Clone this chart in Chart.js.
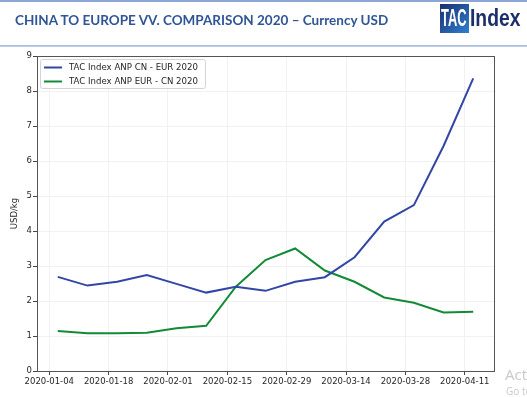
<!DOCTYPE html>
<html>
<head>
<meta charset="utf-8">
<script src="https://cdn.jsdelivr.net/npm/chart.js@4/dist/chart.umd.min.js"></script>
<style>
    html, body { margin: 0; padding: 0; background: #fff; overflow: hidden; }
    #page { position: relative; width: 527px; height: 397px; overflow: hidden; }
    #topRule { position: absolute; left: 0; top: 0; width: 527px; height: 2px; background: #8ea6d6; }
    #bottomRule { position: absolute; left: 0; top: 45px; width: 527px; height: 2px; background: linear-gradient(#9fb4de, #c9d5ec); }
    #title { position: absolute; left: 15px; top: 12px; font: bold 13.5px Lato, "Open Sans", sans-serif; color: #2f5597; white-space: nowrap; }
    #logoBox { position: absolute; left: 440px; top: 4px; width: 29px; height: 29px; background: linear-gradient(135deg, #1b2f6e, #2f7fd0); }
    .logoText { position: absolute; font: bold 23px "Liberation Sans", Arial, sans-serif; transform-origin: 0 0; white-space: nowrap; }
    #logoTac { left: 441px; top: 5px; color: #fff; transform: scaleX(0.56); }
    #logoIndex { left: 470px; top: 5px; color: #1c2f6a; transform: scaleX(0.84); }
    #chartBox { position: absolute; left: 0; top: 0; width: 527px; height: 397px; }
    .wm { position: absolute; color: #c9c9c9; font-family: "Open Sans", sans-serif; white-space: nowrap; }
</style>
</head>
<body>
<div id="page">
    <div id="chartBox"><canvas id="tacChart"></canvas></div>
    <div id="topRule"></div>
    <div id="bottomRule"></div>
    <div id="title">CHINA TO EUROPE VV. COMPARISON 2020 – Currency USD</div>
    <div id="logoBox"></div>
    <div id="logoTac" class="logoText">TAC</div>
    <div id="logoIndex" class="logoText">Index</div>
    <div class="wm" style="left:505px; top:364px; font-size:15px;">Activate Windows</div>
    <div class="wm" style="left:506px; top:384px; font-size:10px;">Go to Settings to activate Windows.</div>
</div>
<script>
const startDate = '2020-01-04';
const weekDates = ['2020-01-06', '2020-01-13', '2020-01-20', '2020-01-27', '2020-02-03', '2020-02-10', '2020-02-17',
    '2020-02-24', '2020-03-02', '2020-03-09', '2020-03-16', '2020-03-23', '2020-03-30', '2020-04-06', '2020-04-13'];
const cnEurValues = [2.69, 2.44, 2.55, 2.74, 2.49, 2.24, 2.41, 2.29, 2.55, 2.68, 3.25, 4.27, 4.74, 6.43, 8.36];
const eurCnValues = [1.14, 1.08, 1.08, 1.09, 1.22, 1.29, 2.41, 3.17, 3.50, 2.87, 2.55, 2.10, 1.95, 1.67, 1.69];
const tickDates = ['2020-01-04', '2020-01-18', '2020-02-01', '2020-02-15', '2020-02-29', '2020-03-14', '2020-03-28', '2020-04-11'];

function dayOf(d) {
    return (Date.parse(d) - Date.parse(startDate)) / 86400000;
}

const tickFont = { family: 'DejaVu Sans', size: 8.5 };

// legend drawn by hand so it gets the framed box
const legendBox = {
    id: 'legendBox',
    afterDatasetsDraw(chart) {
        const { ctx, chartArea } = chart;
        const x = chartArea.left + 3;
        const y = chartArea.top + 3;
        ctx.save();
        ctx.font = '8.6px "DejaVu Sans"';
        const w = Math.max(...chart.data.datasets.map(ds => ctx.measureText(ds.label).width)) + 36;
        ctx.fillStyle = 'rgba(255,255,255,0.85)';
        ctx.strokeStyle = '#d4d4d4';
        ctx.lineWidth = 1;
        ctx.beginPath();
        ctx.roundRect(x + 0.5, y + 0.5, w, 29, 2);
        ctx.fill();
        ctx.stroke();
        chart.data.datasets.forEach((ds, i) => {
            const ly = y + 8.5 + i * 14;
            ctx.strokeStyle = ds.borderColor;
            ctx.lineWidth = 2;
            ctx.beginPath();
            ctx.moveTo(x + 4, ly);
            ctx.lineTo(x + 22, ly);
            ctx.stroke();
            ctx.fillStyle = '#262626';
            ctx.textBaseline = 'middle';
            ctx.fillText(ds.label, x + 29, ly + 0.5);
        });
        ctx.restore();
    }
};

const frameBox = {
    id: 'frameBox',
    afterDraw(chart) {
        const { ctx, chartArea } = chart;
        ctx.save();
        ctx.strokeStyle = '#555';
        ctx.lineWidth = 1;
        ctx.strokeRect(chartArea.left + 0.5, chartArea.top + 0.5, chartArea.width, chartArea.height);
        ctx.restore();
    }
};

const ctx = document.getElementById('tacChart').getContext('2d');
const tacChart = new Chart(ctx, {
    type: 'line',
    data: {
        datasets: [{
            label: 'TAC Index ANP CN - EUR 2020',
            data: weekDates.map((d, i) => ({ x: dayOf(d), y: cnEurValues[i] })),
            borderColor: '#3246a6',
            backgroundColor: '#3246a6',
            borderWidth: 2,
            pointRadius: 0,
            tension: 0,
        }, {
            label: 'TAC Index ANP EUR - CN 2020',
            data: weekDates.map((d, i) => ({ x: dayOf(d), y: eurCnValues[i] })),
            borderColor: '#138a37',
            backgroundColor: '#138a37',
            borderWidth: 2,
            pointRadius: 0,
            tension: 0,
        }],
    },
    options: {
        responsive: true,
        maintainAspectRatio: false,
        animation: false,
        layout: {
            padding: { left: 0, top: 56, right: 33, bottom: 0 },
        },
        plugins: {
            legend: { display: false },
            tooltip: { enabled: false },
        },
        scales: {
            x: {
                type: 'linear',
                min: -2.9,
                max: 104.9,
                afterBuildTicks: scale => {
                    scale.ticks = tickDates.map(d => ({ value: dayOf(d) }));
                },
                afterFit: scale => { scale.height = 26; },
                ticks: {
                    callback: value => tickDates.find(d => dayOf(d) === value) || '',
                    font: tickFont,
                    color: '#262626',
                    padding: 2,
                    maxRotation: 0,
                    autoSkip: false,
                },
                grid: { color: '#f1f1f1', tickColor: '#444', tickLength: 4 },
                border: { color: '#555' },
            },
            y: {
                min: 0,
                max: 9,
                afterFit: scale => { scale.width = 37; },
                ticks: {
                    stepSize: 1,
                    font: tickFont,
                    color: '#262626',
                    padding: 1,
                },
                grid: { color: '#f1f1f1', tickColor: '#444', tickLength: 4 },
                border: { color: '#555' },
                title: {
                    display: true,
                    text: 'USD/kg',
                    font: tickFont,
                    color: '#262626',
                    padding: { top: 10, bottom: 0 },
                },
            },
        },
    },
    plugins: [legendBox, frameBox],
});
</script>
</body>
</html>
